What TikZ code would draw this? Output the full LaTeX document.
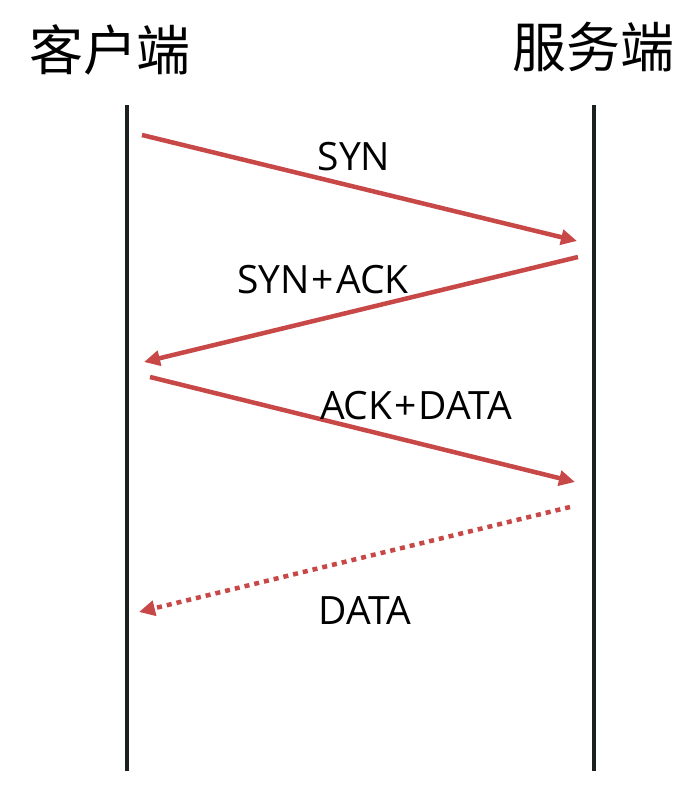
\documentclass[tikz,border=0pt]{standalone}
\usepackage{fontspec}
\setmainfont{Open Sans}
\newfontfamily\cjk{Noto Sans CJK SC}
\usetikzlibrary{arrows.meta}
\definecolor{msgred}{RGB}{200,72,72}
\definecolor{lifeblack}{RGB}{28,32,30}
\newcommand{\plussign}{\kern2pt+\kern2pt}
\tikzset{
  lifeline/.style={draw=lifeblack, line width=4.5pt},
  msg/.style={draw=msgred, line width=4.5pt, -{Triangle[length=16pt,width=15pt]}},
  msgdot/.style={msg, dash pattern=on 5pt off 5pt},
  lbl/.style={font=\fontsize{39}{44}\selectfont, text=black, inner sep=0pt},
  title/.style={font=\cjk\fontsize{54}{60}\selectfont, text=black, inner sep=0pt}
}
\begin{document}
\begin{tikzpicture}[x=1pt,y=-1pt]
\useasboundingbox[fill=white] (0,0) rectangle (691,785);
\node[title] (ct) at (110,50) {客户端};
\node[title] (st) at (593,47) {服务端};
\coordinate (c1) at (127,105);
\coordinate (c2) at (127,771);
\coordinate (s1) at (594,105);
\coordinate (s2) at (594,771);
\draw[lifeline] (c1) -- (c2);
\draw[lifeline] (s1) -- (s2);
\coordinate (a1) at (142,135);
\coordinate (b1) at (577,241);
\coordinate (a2) at (578,257);
\coordinate (b2) at (144,362);
\coordinate (a3) at (150,377);
\coordinate (b3) at (575,482);
\coordinate (a4) at (570,507);
\coordinate (b4) at (139,612);
\draw[msg] (a1) -- (b1);
\draw[msg] (a2) -- (b2);
\draw[msg] (a3) -- (b3);
\draw[msgdot] (a4) -- (b4);
\node[lbl] (l1) at (354,157) {SYN};
\node[lbl] (l2) at (323,280) {SYN\plussign ACK};
\node[lbl] (l3) at (416,406) {ACK\plussign DATA};
\node[lbl] (l4) at (365,611) {DATA};
\end{tikzpicture}
\end{document}
